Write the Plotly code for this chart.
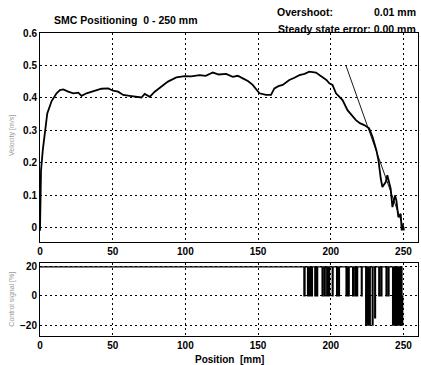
import plotly.graph_objects as go

# ---- data ----
pos_mm = [0, 0.3, 0.5, 0.7, 1.9, 3.4, 5.0, 8.0, 11.4, 13.7,
          16.0, 19.4, 22.9, 26.3, 28.6, 32.0, 35.4, 38.9, 42.3, 46.9,
          50.3, 53.7, 57.2, 61.7, 66.3, 69.8, 72.0, 75.5, 78.9, 83.5,
          88.0, 93.8, 99.5, 104.0, 109.8, 114.0, 118.9, 123.0, 128.0, 132.6,
          136.0, 139.5, 143.0, 146.3, 150.9, 155.5, 158.9, 161.2, 164.0, 166.9,
          171.5, 175.0, 178.4, 182.0, 185.2, 189.8, 194.4, 197.0, 199.0, 201.2,
          203.6, 208.1, 211.5, 214.5, 217.3, 220.0, 223.0, 226.4, 228.7, 231.4,
          232.8, 234.4, 235.5, 237.8, 238.9, 241.2, 242.4, 244.2, 245.1, 246.5,
          248.1, 248.8, 249.7, 250.4]
velocity = [-0.01, 0.05, 0.10, 0.176, 0.238, 0.30, 0.352, 0.39, 0.414, 0.424,
            0.426, 0.419, 0.414, 0.416, 0.406, 0.414, 0.419, 0.422, 0.428, 0.429,
            0.422, 0.419, 0.409, 0.406, 0.403, 0.401, 0.412, 0.403, 0.419, 0.434,
            0.45, 0.463, 0.467, 0.466, 0.47, 0.468, 0.478, 0.472, 0.474, 0.465,
            0.468, 0.46, 0.452, 0.44, 0.414, 0.409, 0.409, 0.429, 0.436, 0.44,
            0.455, 0.462, 0.47, 0.474, 0.481, 0.478, 0.465, 0.455, 0.445, 0.44,
            0.414, 0.393, 0.362, 0.345, 0.331, 0.322, 0.316, 0.306, 0.28, 0.238,
            0.207, 0.151, 0.125, 0.14, 0.161, 0.12, 0.063, 0.099, 0.084, 0.032,
            0.042, -0.009, 0.006, -0.009]

ref_pos = [210.4, 250.0]
ref_vel = [0.5, 0.0]

sig_pos = [0, 181.5, 182.3, 184.0, 184.6, 185.3, 186.0, 186.8, 187.4, 189.0,
           189.6, 190.4, 191.0, 194.0, 194.6, 195.5, 196.2, 197.2, 197.8, 198.6,
           199.2, 201.0, 201.6, 204.0, 204.6, 205.4, 206.0, 210.5, 211.2, 212.0,
           212.7, 215.0, 215.6, 216.5, 217.2, 218.0, 218.5, 221.0, 221.6, 224.0,
           224.5, 225.2, 225.8, 226.6, 227.2, 228.5, 229.1, 230.2, 230.8, 233.0,
           233.6, 234.5, 235.2, 238.0, 238.6, 239.5, 240.1, 242.5, 243.0, 243.8,
           244.3, 245.0, 245.6, 246.4, 247.0, 247.8, 248.4, 249.0, 249.5, 250.0]
sig_val = [20, 0, 20, 0, 20, 0, 20, 0, 20, 0,
           20, 0, 20, 0, 20, 0, 20, 0, 20, 0,
           20, 0, 20, 0, 20, 0, 20, 0, 20, 0,
           20, 0, 20, 0, 20, 0, 20, 0, 20, -20,
           20, -20, 20, -20, 20, -20, 20, -15, 20, 0,
           20, 0, 20, 0, 20, 0, 20, -20, 20, -20,
           20, -20, 20, -20, 20, -20, 20, -20, 0, 0]

x_ticks = [0, 50, 100, 150, 200, 250]
v_ticks = [0, 0.1, 0.2, 0.3, 0.4, 0.5, 0.6]
v_labels = ["0", "0.1", "0.2", "0.3", "0.4", "0.5", "0.6"]
u_ticks = [-20, 0, 20]

# ---- figure ----
fig = go.Figure()
fig.add_trace(go.Scatter(x=pos_mm, y=velocity, mode="lines",
                         line=dict(color="black", width=1.8), xaxis="x", yaxis="y"))
fig.add_trace(go.Scatter(x=ref_pos, y=ref_vel, mode="lines",
                         line=dict(color="black", width=0.9), xaxis="x", yaxis="y"))
fig.add_trace(go.Scatter(x=sig_pos, y=sig_val, mode="lines",
                         line=dict(color="black", width=1.2, shape="hv"),
                         xaxis="x2", yaxis="y2"))

tickfont = dict(family="Liberation Sans, Arial", size=10, color="black", weight="bold")
common = dict(showgrid=True, gridcolor="black", gridwidth=1.2, griddash="2px,3px",
              showline=True, mirror=True, linecolor="black", linewidth=1,
              ticks="", zeroline=False, tickfont=tickfont)

fig.update_layout(
    width=421, height=365,
    margin=dict(l=40, r=3, t=33, b=29),
    paper_bgcolor="white", plot_bgcolor="white",
    showlegend=False,
    xaxis=dict(domain=[0, 1], range=[0, 260], tickvals=x_ticks, anchor="y", **common),
    yaxis=dict(domain=[0.31, 1], range=[-0.045, 0.6], tickvals=v_ticks,
               ticktext=v_labels, anchor="x", **common),
    xaxis2=dict(domain=[0, 1], range=[0, 260], tickvals=x_ticks, anchor="y2", **common),
    yaxis2=dict(domain=[0, 0.241], range=[-27.5, 22.7], tickvals=u_ticks,
                anchor="x2", **common),
)

tf = dict(family="Liberation Sans, Arial", size=10.5, color="black", weight="bold")
fig.add_annotation(text="SMC Positioning&nbsp;&nbsp;0 - 250 mm", xref="paper", yref="paper",
                   x=0.032, y=1.043, xanchor="left", yanchor="middle", showarrow=False, font=tf)
fig.add_annotation(text="Overshoot:", xref="paper", yref="paper",
                   x=0.622, y=1.069, xanchor="left", yanchor="middle", showarrow=False, font=tf)
fig.add_annotation(text="0.01 mm", xref="paper", yref="paper",
                   x=1.0, y=1.069, xanchor="right", yanchor="middle", showarrow=False, font=tf)
fig.add_annotation(text="Steady state error: 0.00 mm", xref="paper", yref="paper",
                   x=1.0, y=1.013, xanchor="right", yanchor="middle", showarrow=False, font=tf)
fig.add_annotation(text="Position&nbsp;&nbsp;[mm]", xref="paper", yref="paper",
                   x=0.5, y=-0.078, xanchor="center", yanchor="middle", showarrow=False,
                   font=dict(family="Liberation Sans, Arial", size=10, color="black", weight="bold"))
lf = dict(family="Liberation Sans, Arial", size=7, color="#9a9a9a")
fig.add_annotation(text="Velocity [m/s]", xref="paper", yref="paper", textangle=-90,
                   x=-0.074, y=0.66, xanchor="center", yanchor="middle", showarrow=False, font=lf)
fig.add_annotation(text="Control signal [%]", xref="paper", yref="paper", textangle=-90,
                   x=-0.074, y=0.12, xanchor="center", yanchor="middle", showarrow=False, font=lf)

fig.write_html("out.html")
